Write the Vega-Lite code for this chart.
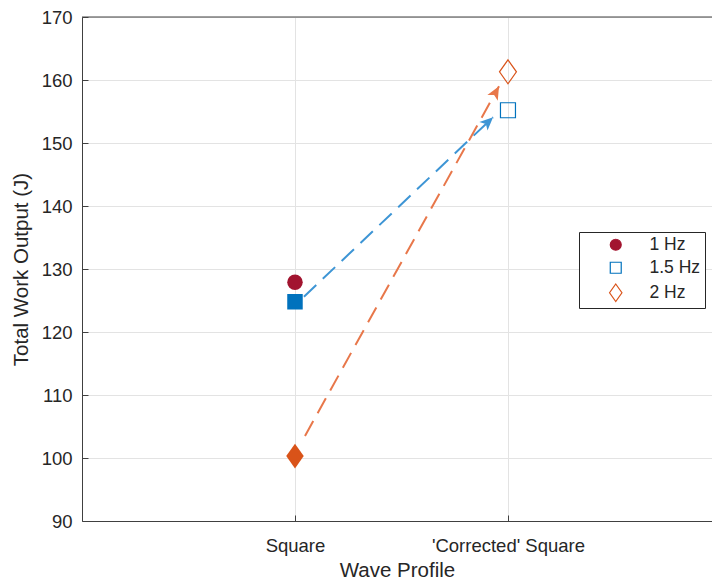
{
  "$schema": "https://vega.github.io/schema/vega-lite/v6.json",
  "autosize": "none",
  "width": 630,
  "height": 504,
  "padding": {"left": 82, "top": 17, "right": 0, "bottom": 61},
  "background": "white",
  "datasets": {
    "points": [
      {"wave": 1, "freq": "1 Hz", "work": 127.9},
      {"wave": 1, "freq": "1.5 Hz", "work": 124.8},
      {"wave": 1, "freq": "2 Hz", "work": 100.3},
      {"wave": 2, "freq": "1.5 Hz", "work": 155.2},
      {"wave": 2, "freq": "2 Hz", "work": 161.3}
    ],
    "arrows": [
      {"freq": "1.5 Hz", "x0": 1.042, "y0": 125.6, "x1": 1.93, "y1": 154.1},
      {"freq": "2 Hz", "x0": 1.047, "y0": 103.5, "x1": 1.958, "y1": 159.0}
    ]
  },
  "resolve": {"legend": {"color": "independent", "shape": "independent", "fill": "independent", "stroke": "independent"}},
  "layer": [
    {
      "data": {"values": [{}]},
      "mark": {"type": "rule", "color": "#404040", "strokeWidth": 1},
      "encoding": {
        "y": {"datum": 170, "type": "quantitative", "title": "Total Work Output (J)"}
      }
    },
    {
      "data": {"name": "arrows"},
      "mark": {"type": "rule", "strokeWidth": 2, "strokeDash": [17, 9], "strokeCap": "butt"},
      "encoding": {
        "x": {"field": "x0", "type": "quantitative", "title": "Wave Profile"},
        "y": {"field": "y0", "type": "quantitative", "title": "Total Work Output (J)"},
        "x2": {"field": "x1"},
        "y2": {"field": "y1"},
        "stroke": {"condition": {"test": "datum.freq === '2 Hz'", "value": "#E8774A"}, "value": "#3D95D5"}
      }
    },
    {
      "data": {"name": "arrows"},
      "mark": {"type": "point", "shape": "M0,0L0.45,1L0,0.75L-0.45,1Z", "filled": true, "size": 700, "opacity": 1},
      "encoding": {
        "x": {"field": "x1", "type": "quantitative", "title": "Wave Profile"},
        "y": {"field": "y1", "type": "quantitative", "title": "Total Work Output (J)"},
        "angle": {"condition": {"test": "datum.freq === '2 Hz'", "value": 29.2}, "value": 46.6},
        "fill": {"condition": {"test": "datum.freq === '2 Hz'", "value": "#E8774A"}, "value": "#3D95D5"}
      }
    },
    {
      "data": {"name": "points"},
      "transform": [{"filter": "datum.wave === 1"}],
      "mark": {"type": "point", "filled": true, "size": 240, "opacity": 1},
      "encoding": {
        "x": {
          "field": "wave", "type": "quantitative",
          "scale": {"domain": [0, 2.958], "nice": false, "zero": false},
          "axis": {
            "values": [1, 2],
            "labelExpr": "datum.value === 1 ? 'Square' : \"'Corrected' Square\"",
            "title": "Wave Profile",
            "grid": true
          }
        },
        "y": {
          "field": "work", "type": "quantitative",
          "scale": {"domain": [90, 170], "nice": false, "zero": false},
          "axis": {
            "values": [90, 100, 110, 120, 130, 140, 150, 160, 170],
            "title": "Total Work Output (J)",
            "grid": true
          }
        },
        "color": {
          "field": "freq", "type": "nominal",
          "scale": {"domain": ["1 Hz", "1.5 Hz", "2 Hz"], "range": ["#A2142F", "#0072BD", "#D95319"]},
          "legend": null
        },
        "shape": {
          "field": "freq", "type": "nominal",
          "scale": {"domain": ["1 Hz", "1.5 Hz", "2 Hz"], "range": ["circle", "square", "M0,-1.6L1.13,0L0,1.6L-1.13,0Z"]},
          "legend": null
        }
      }
    },
    {
      "data": {"name": "points"},
      "transform": [{"filter": "datum.wave === 2"}],
      "mark": {"type": "point", "filled": false, "size": 225, "strokeWidth": 1.2, "opacity": 1},
      "encoding": {
        "x": {"field": "wave", "type": "quantitative", "title": "Wave Profile"},
        "y": {"field": "work", "type": "quantitative", "title": "Total Work Output (J)"},
        "color": {"field": "freq", "type": "nominal", "legend": null},
        "shape": {"field": "freq", "type": "nominal", "legend": null}
      }
    },
    {
      "data": {"name": "points"},
      "transform": [{"filter": "false"}],
      "mark": {"type": "point", "strokeWidth": 1.2, "opacity": 1},
      "encoding": {
        "fill": {
          "field": "freq", "type": "nominal",
          "scale": {"domain": ["1 Hz", "1.5 Hz", "2 Hz"], "range": ["#A2142F", "transparent", "transparent"]},
          "legend": {
            "title": null,
            "orient": "none",
            "legendX": 497,
            "legendY": 215,
            "padding": 4,
            "columnPadding": 0,
            "strokeColor": "#262626",
            "fillColor": "white",
            "labelFontSize": 17.5,
            "labelColor": "#262626",
            "labelFont": "Liberation Sans",
            "symbolSize": 120,
            "symbolOffset": 24,
            "labelOffset": 25,
            "rowPadding": 4,
            "symbolStrokeWidth": 1.2,
            "symbolOpacity": 1
          }
        },
        "stroke": {
          "field": "freq", "type": "nominal",
          "scale": {"domain": ["1 Hz", "1.5 Hz", "2 Hz"], "range": ["#A2142F", "#0072BD", "#D95319"]}
        },
        "shape": {"field": "freq", "type": "nominal"}
      }
    }
  ],
  "config": {
    "font": "Liberation Sans",
    "view": {"stroke": null},
    "axis": {
      "domainColor": "#404040",
      "domainWidth": 1,
      "tickColor": "#404040",
      "tickSize": -6,
      "labelFontSize": 18.5,
      "labelColor": "#262626",
      "labelFont": "Liberation Sans",
      "titleFontSize": 20.5,
      "titleFontWeight": "normal",
      "titleColor": "#262626",
      "titleFont": "Liberation Sans",
      "gridColor": "#e3e3e3",
      "gridWidth": 1
    },
    "axisX": {"labelPadding": 21, "titlePadding": 6},
    "axisY": {"labelPadding": 16, "titlePadding": 10}
  }
}
